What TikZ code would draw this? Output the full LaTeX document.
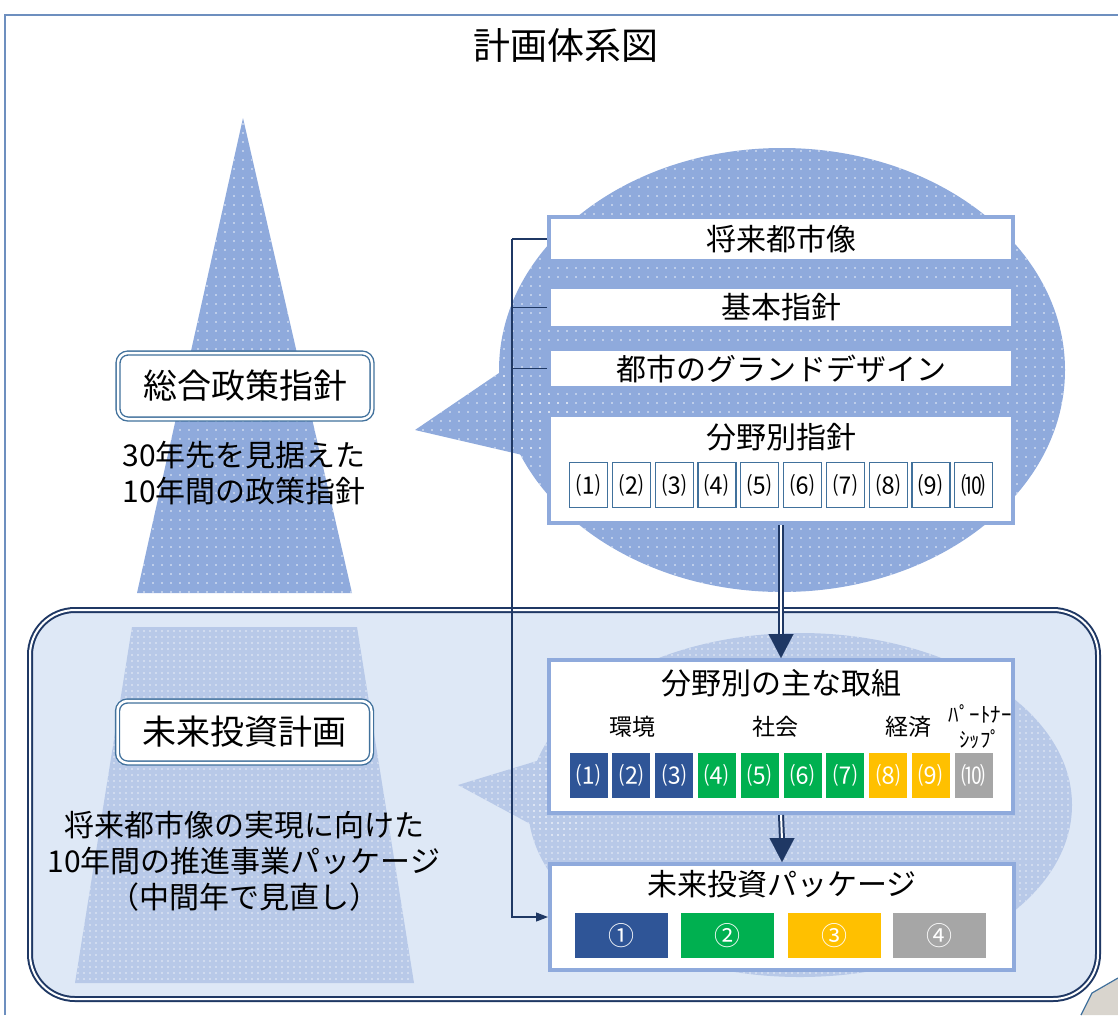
\documentclass[tikz,border=0pt]{standalone}
\usepackage{fontspec}
\setmainfont{Noto Sans CJK JP}
\usetikzlibrary{arrows.meta,patterns.meta,positioning}
\definecolor{frameblue}{RGB}{109,143,191}
\definecolor{bubbleblue}{RGB}{143,170,220}
\definecolor{boxline}{RGB}{143,170,220}
\definecolor{steel}{RGB}{65,113,156}
\definecolor{navy}{RGB}{31,56,100}
\definecolor{lightpanel}{RGB}{222,232,246}
\definecolor{softblue}{RGB}{184,201,232}
\definecolor{cblue}{RGB}{47,85,151}
\definecolor{cgreen}{RGB}{0,176,80}
\definecolor{cgold}{RGB}{255,192,0}
\definecolor{cgray}{RGB}{166,166,166}
\definecolor{tailgray}{RGB}{217,213,206}
\begin{document}
\begin{tikzpicture}[x=1pt,y=-1pt,
    dotfill/.style={pattern={Dots[distance=9pt,radius=0.9pt]},pattern color=white!85!bubbleblue},
    gridfill/.style={pattern={Dots[distance=6pt,radius=0.8pt]},pattern color=white!70!softblue},
    tbox/.style={draw=boxline,line width=4pt,fill=white,minimum width=464pt,inner sep=0pt,font=\fontsize{30}{36}\selectfont},
    numbox/.style={draw=steel,line width=1.2pt,fill=white,minimum width=38pt,minimum height=45pt,inner sep=0pt,font=\fontsize{24}{28}\selectfont},
    catbox/.style={fill=#1,minimum width=38pt,minimum height=45pt,inner sep=0pt,text=white,font=\fontsize{24}{28}\selectfont},
    pkgbox/.style={fill=#1,minimum width=93pt,minimum height=45pt,inner sep=0pt,text=white,font=\fontsize{26}{30}\selectfont},
    plan/.style={draw=steel,double=white,double distance=2.5pt,line width=1.4pt,rounded corners=10pt,fill=white,minimum width=254pt,inner sep=0pt,font=\fontsize{34}{40}\selectfont},
    note/.style={align=center,inner sep=0pt,font=\fontsize{30}{36}\selectfont},
    catlabel/.style={inner sep=0pt,font=\fontsize{23}{26}\selectfont},
    feed/.style={navy,line width=1.1pt},
    flow/.style={navy,double=white,double distance=2pt,line width=2pt},
    flowhead/.style={navy,line width=0.1pt,-{Triangle[length=24pt,width=25pt]}},
  ]
  \useasboundingbox (0,0) rectangle (1118,1015);
  \draw[frameblue,line width=2pt] (5,1015) -- (5,15) -- (1118,15);
  \fill[tailgray] (1081,1015) -- (1092,993) -- (1118,978) -- (1118,1015) -- cycle;
  \draw[steel,line width=1.2pt] (1081,1015) -- (1092,993) -- (1118,978);
  \node[font=\fontsize{37}{42}\selectfont] (title) at (566,45) {計画体系図};

  % upper half
  \fill[bubbleblue] (243,118) -- (352,593) -- (137,593) -- cycle;
  \fill[dotfill] (243,118) -- (352,593) -- (137,593) -- cycle;
  \fill[bubbleblue] (782,370) ellipse [x radius=283, y radius=222];
  \fill[bubbleblue] (499,373) -- (415,430) -- (531,457) -- (600,415) -- cycle;
  \fill[dotfill] (782,370) ellipse [x radius=283, y radius=222];
  \fill[dotfill] (499,373) -- (415,430) -- (531,457) -- (600,415) -- cycle;

  % lower half
  \draw[navy,double=white,double distance=2pt,line width=2pt,fill=lightpanel,rounded corners=45pt]
    (30,610) rectangle (1098,999);
  \fill[softblue] (132,627) -- (357,627) -- (414,983) -- (75,983) -- cycle;
  \fill[gridfill] (132,627) -- (357,627) -- (414,983) -- (75,983) -- cycle;
  \fill[softblue] (800,805) ellipse [x radius=272, y radius=172];
  \fill[softblue] (540,760) -- (458,785) -- (560,840) -- (620,800) -- cycle;
  \fill[gridfill] (800,805) ellipse [x radius=272, y radius=172];
  \fill[gridfill] (540,760) -- (458,785) -- (560,840) -- (620,800) -- cycle;

  \node[plan,minimum height=66pt] (sogo) at (245,386) {総合政策指針};
  \node[note,align=left] (sogonote) at (244,473) {30年先を見据えた\\10年間の政策指針};
  \node[plan,minimum height=62pt] (mirai) at (244.5,732) {未来投資計画};
  \node[note] (mirainote) at (244,861) {将来都市像の実現に向けた\\10年間の推進事業パッケージ\\（中間年で見直し）};

  \node[tbox,minimum height=44pt] (toshizo) at (781,239) {将来都市像};
  \node[tbox,minimum height=41pt] (kihon) at (781,307.5) {基本指針};
  \node[tbox,minimum height=39pt] (grand) at (781,368.5) {都市のグランドデザイン};
  \node[tbox,minimum height=108pt] (bunya) at (781,469) {};
  \node[inner sep=0pt,font=\fontsize{30}{36}\selectfont] (bunyatitle) at (781,437) {分野別指針};
  \foreach \t [count=\i] in {⑴,⑵,⑶,⑷,⑸,⑹,⑺,⑻,⑼,⑽}
    \node[numbox] (f\i) at ({588.5+42.8*(\i-1)},485) {\t};

  \node[tbox,minimum height=153pt] (torikumi) at (781,736.5) {};
  \node[inner sep=0pt,font=\fontsize{30}{36}\selectfont] (torikumititle) at (781,683) {分野別の主な取組};
  \node[catlabel] (kankyo) at (632,727) {環境};
  \node[catlabel] (shakai) at (775,727) {社会};
  \node[catlabel] (keizai) at (908,727) {経済};
  \node[catlabel,align=center,font=\fontsize{21}{25}\selectfont] (partner) at (980,727) {ﾊﾟｰﾄﾅｰ\\ｼｯﾌﾟ};
  \foreach \t/\c [count=\i] in {⑴/cblue,⑵/cblue,⑶/cblue,⑷/cgreen,⑸/cgreen,⑹/cgreen,⑺/cgreen,⑻/cgold,⑼/cgold,⑽/cgray}
    \node[catbox=\c] (g\i) at ({588.5+42.8*(\i-1)},775.5) {\t};

  \node[tbox,minimum height=106pt] (package) at (782,917) {};
  \node[inner sep=0pt,font=\fontsize{30}{36}\selectfont] (packagetitle) at (782,884) {未来投資パッケージ};
  \foreach \t/\c/\x [count=\i] in {①/cblue/621,②/cgreen/727.5,③/cgold/834,④/cgray/939.5}
    \node[pkgbox=\c] (p\i) at (\x,935.5) {\t};

  % connectors
  \draw[feed] (toshizo.west) -- ++(-35,0) coordinate (corner);
  \draw[feed] (kihon.west) -- ++(-35,0);
  \draw[feed] (grand.west) -- ++(-35,0);
  \draw[feed,-{Triangle[length=12pt,width=9pt]}] (corner) |- (package.west);
  \draw[flow] (bunya.south) -- ([yshift=22pt]torikumi.north);
  \draw[flowhead] ([yshift=24pt]torikumi.north) -- (torikumi.north);
  \draw[flow] (torikumi.south) -- ([yshift=22pt]package.north);
  \draw[flowhead] ([yshift=24pt]package.north) -- (package.north);
\end{tikzpicture}
\end{document}
